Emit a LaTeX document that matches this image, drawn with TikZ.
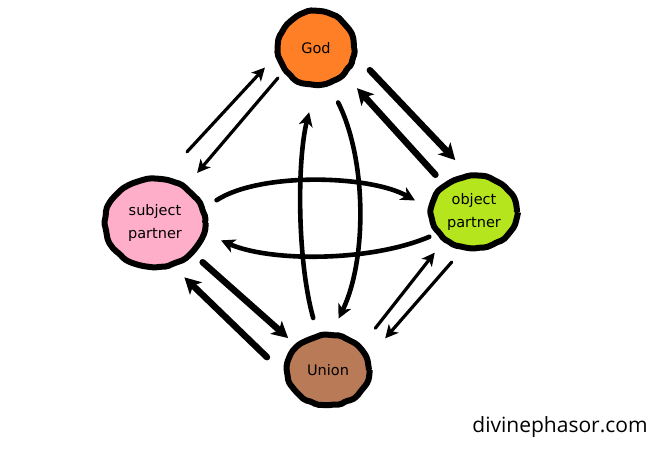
\documentclass[tikz,border=0pt]{standalone}
\usepackage{fontspec}
\usetikzlibrary{shapes.geometric,arrows.meta,decorations.pathmorphing}
\newfontfamily\nodefont{DejaVu Sans}
\newfontfamily\wmfont{Open Sans}
\definecolor{godc}{HTML}{FF7F27}
\definecolor{subjc}{HTML}{FFAEC9}
\definecolor{objc}{HTML}{B5E61D}
\definecolor{unic}{HTML}{B97A57}
\begin{document}
\pgfmathsetseed{7}
\begin{tikzpicture}[x=1pt,y=-1pt,
  blob/.style={ellipse,draw=black,line width=6pt,inner sep=0pt,align=center,
    font={\nodefont\fontsize{14.5}{23}\selectfont},
    decorate,decoration={random steps,segment length=6pt,amplitude=0.9pt},rounded corners=2pt},
  thickarr/.style={line width=6.5pt,line cap=round,-{Stealth[length=16pt,width=17pt,inset=4pt]}},
  thinarr/.style={line width=3.2pt,line cap=round,-{Stealth[length=13pt,width=13pt,inset=3.5pt]}},
  arcarr/.style={line width=4.6pt,line cap=round,-{Stealth[length=14pt,width=14pt,inset=4pt]}}]
\useasboundingbox (0,0) rectangle (659,448);
\node[blob,fill=godc,minimum width=76pt,minimum height=74pt] (god) at (316,48) {God};
\node[blob,fill=subjc,minimum width=100pt,minimum height=88pt] (subj) at (155,223) {subject\\partner};
\node[blob,fill=objc,minimum width=86pt,minimum height=72pt] (obj) at (474,212) {object\\partner};
\node[blob,fill=unic,minimum width=82pt,minimum height=70pt] (uni) at (328,370) {Union};
% subject <-> God (thin)
\draw[thinarr,shorten <=33.8pt,shorten >=16pt] (subj.79) -- (god.191.6);
\draw[thinarr,shorten <=7.9pt,shorten >=16.2pt] (god.216.1) -- (subj.50.1);
% God <-> object (thick)
\draw[thickarr,shorten <=19.8pt,shorten >=18.3pt] (god.349.3) -- (obj.99.4);
\draw[thickarr,shorten <=11.3pt,shorten >=16.9pt] (obj.137.7) -- (god.317.3);
% subject <-> Union (thick)
\draw[thickarr,shorten <=11.4pt,shorten >=9.7pt] (subj.321.5) -- (uni.142.1);
\draw[thickarr,shorten <=24pt,shorten >=14.9pt] (uni.185) -- (subj.293.9);
% Union <-> object (thin)
\draw[thinarr,shorten <=22pt,shorten >=14.4pt] (uni.36.7) -- (obj.224.8);
\draw[thinarr,shorten <=16.2pt,shorten >=24.3pt] (obj.253.4) -- (uni.18.6);
% vertical arcs
\draw[arcarr,shorten <=15.7pt,shorten >=25pt] (uni.106) .. controls (297,260) and (297,160) .. (god.269);
\draw[arcarr,shorten <=18.8pt,shorten >=15.1pt] (god.290.9) .. controls (367,160) and (367,260) .. (uni.84.6);
% horizontal arcs
\draw[arcarr,shorten <=13.7pt,shorten >=15.2pt] (subj.17.6) .. controls (260,172) and (370,175) .. (obj.175.3);
\draw[arcarr,shorten <=7.2pt,shorten >=15.8pt] (obj.210.6) .. controls (370,262) and (270,262) .. (subj.348.2);
% watermark
\node[font={\wmfont\fontsize{21}{24}\selectfont},anchor=base] (wm) at (560,432) {divinephasor.com};
\end{tikzpicture}
\end{document}
